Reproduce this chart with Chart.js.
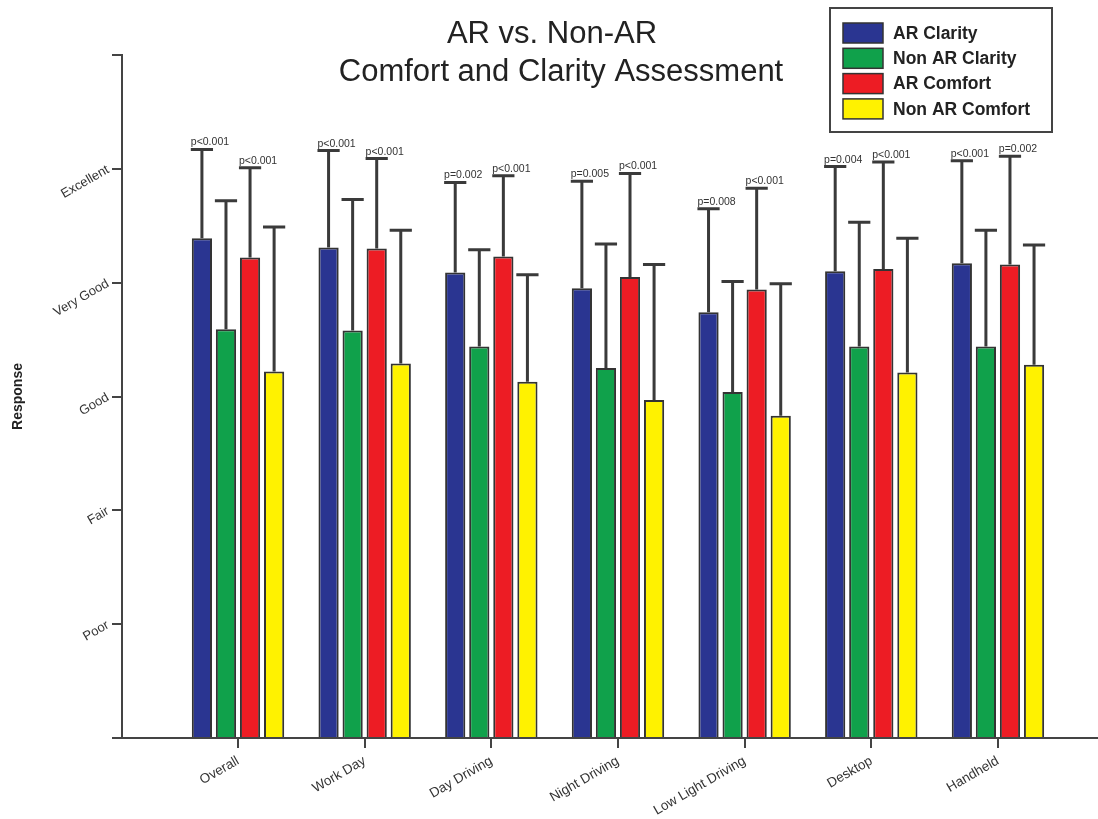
<!DOCTYPE html>
<html>
<head>
<meta charset="utf-8">
<script src="https://cdn.jsdelivr.net/npm/chart.js@4/dist/chart.umd.min.js"></script>
<style>
  html, body { margin: 0; padding: 0; background: #fff; }
  #wrap { width: 1098px; height: 819px; position: relative; }
</style>
</head>
<body>
<div id="wrap"><canvas id="chart"></canvas></div>
<script>
const titleLines = ['AR vs. Non-AR', 'Comfort and Clarity Assessment'];
const categories = ['Overall', 'Work Day', 'Day Driving', 'Night Driving', 'Low Light Driving', 'Desktop', 'Handheld'];
const responseLabels = ['', 'Poor', 'Fair', 'Good', 'Very Good', 'Excellent', ''];

const arClarity = [4.39, 4.31, 4.09, 3.95, 3.74, 4.10, 4.17];
const nonArClarity = [3.59, 3.58, 3.44, 3.25, 3.04, 3.44, 3.44];
const arComfort = [4.22, 4.30, 4.23, 4.05, 3.94, 4.12, 4.16];
const nonArComfort = [3.22, 3.29, 3.13, 2.97, 2.83, 3.21, 3.28];

const arClaritySd = [0.78, 0.85, 0.79, 0.94, 0.91, 0.92, 0.90];
const nonArClaritySd = [1.13, 1.15, 0.85, 1.09, 0.97, 1.09, 1.02];
const arComfortSd = [0.79, 0.79, 0.71, 0.91, 0.89, 0.94, 0.95];
const nonArComfortSd = [1.27, 1.17, 0.94, 1.19, 1.16, 1.18, 1.05];

const pClarity = ['p<0.001', 'p<0.001', 'p=0.002', 'p=0.005', 'p=0.008', 'p=0.004', 'p<0.001'];
const pComfort = ['p<0.001', 'p<0.001', 'p<0.001', 'p<0.001', 'p<0.001', 'p<0.001', 'p=0.002'];

const FONT = '"Liberation Sans", Arial, sans-serif';
const INK = '#333';

const toPoints = vals => vals.map((v, i) => ({ x: i, y: v }));

const series = [
  { label: 'AR Clarity', values: arClarity, sd: arClaritySd, color: '#2a3591', p: pClarity },
  { label: 'Non AR Clarity', values: nonArClarity, sd: nonArClaritySd, color: '#10a14b' },
  { label: 'AR Comfort', values: arComfort, sd: arComfortSd, color: '#ed1c24', p: pComfort },
  { label: 'Non AR Comfort', values: nonArComfort, sd: nonArComfortSd, color: '#fff200' }
];

// error bars (upper only) + p-value labels
const errorBars = {
  id: 'errorBars',
  afterDatasetsDraw(chart) {
    const { ctx } = chart;
    const yScale = chart.scales.y;
    ctx.save();
    series.forEach((s, di) => {
      const meta = chart.getDatasetMeta(di);
      meta.data.forEach((bar, i) => {
        const top = yScale.getPixelForValue(s.values[i] + s.sd[i]);
        const half = bar.width / 2 + 1;
        ctx.strokeStyle = '#3a3a3a';
        ctx.lineWidth = 3;
        ctx.beginPath();
        ctx.moveTo(bar.x, bar.y);
        ctx.lineTo(bar.x, top);
        ctx.moveTo(bar.x - half, top);
        ctx.lineTo(bar.x + half, top);
        ctx.stroke();
        if (s.p) {
          ctx.fillStyle = INK;
          ctx.font = '10.5px ' + FONT;
          ctx.textAlign = 'left';
          ctx.textBaseline = 'alphabetic';
          ctx.fillText(s.p[i], bar.x - half, top - 4);
        }
      });
    });
    ctx.restore();
  }
};

// title and boxed legend drawn over the plot area
const overlay = {
  id: 'overlay',
  afterDraw(chart) {
    const { ctx } = chart;
    ctx.save();
    ctx.fillStyle = '#222';
    ctx.font = '31px ' + FONT;
    ctx.textAlign = 'center';
    ctx.textBaseline = 'middle';
    ctx.fillText(titleLines[0], 552, 34);
    ctx.fillText(titleLines[1], 561, 72);

    ctx.fillStyle = '#fff';
    ctx.fillRect(830, 8, 222, 124);
    ctx.strokeStyle = '#444';
    ctx.lineWidth = 2;
    ctx.strokeRect(830, 8, 222, 124);
    chart.data.datasets.forEach((ds, i) => {
      const y = 33 + i * 25.3;
      ctx.fillStyle = ds.backgroundColor;
      ctx.fillRect(843, y - 10, 40, 20);
      ctx.strokeStyle = '#333';
      ctx.lineWidth = 1.5;
      ctx.strokeRect(843, y - 10, 40, 20);
      ctx.fillStyle = '#222';
      ctx.font = 'bold 17.5px ' + FONT;
      ctx.textAlign = 'left';
      ctx.fillText(ds.label, 893, y + 1);
    });
    ctx.restore();
  }
};

new Chart(document.getElementById('chart'), {
  type: 'bar',
  data: {
    datasets: series.map(s => ({
      label: s.label,
      data: toPoints(s.values),
      backgroundColor: s.color,
      borderColor: '#333',
      borderWidth: 2,
      categoryPercentage: 0.76,
      barPercentage: 0.84
    }))
  },
  options: {
    responsive: true,
    maintainAspectRatio: false,
    animation: false,
    layout: { padding: { top: 55, right: 0, left: 0, bottom: 0 } },
    plugins: { legend: { display: false }, title: { display: false }, tooltip: { enabled: false } },
    scales: {
      x: {
        type: 'linear',
        offset: false,
        min: -0.916,
        max: 6.79,
        afterBuildTicks: scale => { scale.ticks = categories.map((_, i) => ({ value: i })); },
        afterFit: scale => { scale.height = 81; },
        ticks: {
          callback: v => categories[v] ?? '',
          minRotation: 30, maxRotation: 30,
          color: INK, font: { family: FONT, size: 13.5 }, padding: 5
        },
        grid: { offset: false, drawOnChartArea: false, drawTicks: true, tickLength: 10, color: '#444', lineWidth: 2 },
        border: { color: '#444', width: 2 }
      },
      y: {
        min: 0,
        max: 6,
        afterBuildTicks: scale => { scale.ticks = responseLabels.map((_, i) => ({ value: i })); },
        afterFit: scale => { scale.width = 122; },
        ticks: {
          callback: v => responseLabels[v] ?? '',
          minRotation: 30, maxRotation: 30,
          color: INK, font: { family: FONT, size: 13 }, padding: 4
        },
        grid: { drawOnChartArea: false, drawTicks: true, tickLength: 10, color: '#444', lineWidth: 2 },
        border: { color: '#444', width: 2 },
        title: { display: true, text: 'Response', color: '#222', font: { family: FONT, size: 14, weight: 'bold' }, padding: { top: 10 } }
      }
    }
  },
  plugins: [errorBars, overlay]
});
</script>
</body>
</html>
